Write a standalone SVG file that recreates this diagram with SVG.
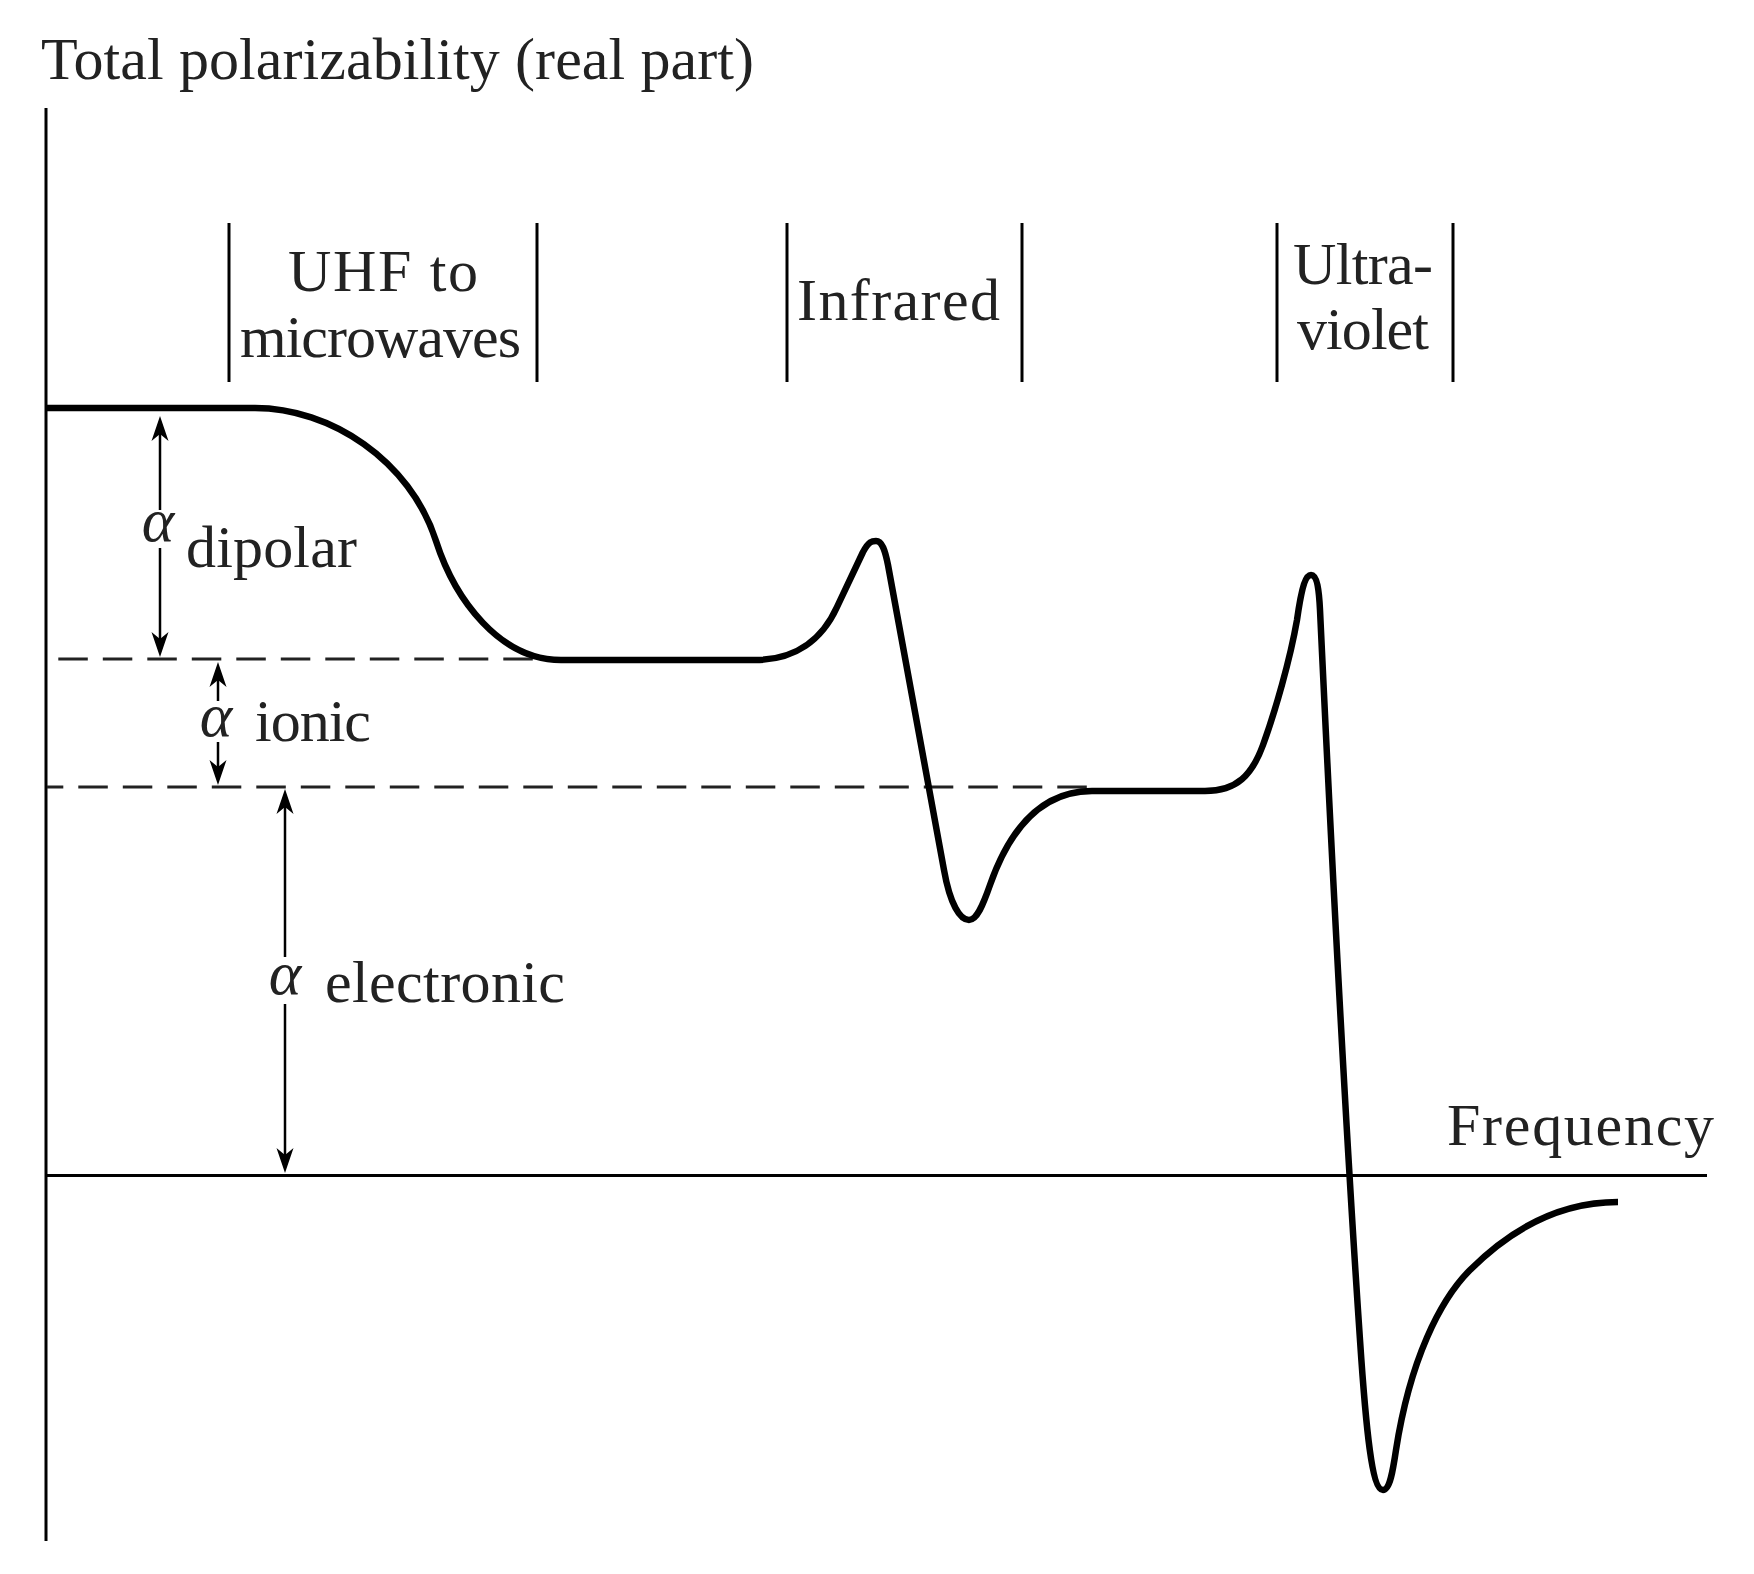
<svg xmlns="http://www.w3.org/2000/svg" width="1754" height="1574" viewBox="0 0 1754 1574">
<defs>
<style>
.txt{font-family:"Liberation Serif","DejaVu Serif","Times New Roman",serif;font-size:60px;fill:#222}
.alpha{font-family:"Liberation Serif","DejaVu Serif","Times New Roman",serif;font-size:62px;font-style:italic;fill:#222}
.axis{stroke:#000;stroke-width:3;fill:none}
.tick{stroke:#000;stroke-width:3;fill:none}
.dash{stroke:#222;stroke-width:3;fill:none;stroke-dasharray:29.5 15}
.curve{stroke:#000;stroke-width:6.5;fill:none;stroke-linejoin:round}
.arr{stroke:#000;stroke-width:2.5;fill:none;marker-end:url(#ah)}
</style>
<marker id="ah" markerUnits="userSpaceOnUse" viewBox="-14 -10 28 20" refX="0" refY="0" markerWidth="28" markerHeight="20" orient="auto">
<path d="M12,0 L-13,-8.5 L-6,0 L-13,8.5 Z" fill="#000"/>
</marker>
</defs>
<rect width="1754" height="1574" fill="#fff"/>

<g id="axes">
<line class="axis" x1="46" y1="108" x2="46" y2="1541"/>
<line class="axis" x1="46" y1="1175.5" x2="1707" y2="1175.5"/>
</g>

<g id="title"><text class="txt" x="41" y="79" textLength="713" lengthAdjust="spacing">Total polarizability (real part)</text></g>
<g id="xlabel"><text class="txt" x="1447" y="1145" textLength="267" lengthAdjust="spacing">Frequency</text></g>

<g id="band-uhf">
<line class="tick" x1="229" y1="223" x2="229" y2="382"/>
<line class="tick" x1="537" y1="223" x2="537" y2="382"/>
<text class="txt" x="288" y="291" textLength="190" lengthAdjust="spacing">UHF to</text>
<text class="txt" x="240" y="357" textLength="281" lengthAdjust="spacing">microwaves</text>
</g>
<g id="band-ir">
<line class="tick" x1="787" y1="223" x2="787" y2="382"/>
<line class="tick" x1="1022" y1="223" x2="1022" y2="382"/>
<text class="txt" x="797" y="320" textLength="203" lengthAdjust="spacing">Infrared</text>
</g>
<g id="band-uv">
<line class="tick" x1="1277" y1="223" x2="1277" y2="382"/>
<line class="tick" x1="1453" y1="223" x2="1453" y2="382"/>
<text class="txt" x="1293" y="284" textLength="140" lengthAdjust="spacing">Ultra-</text>
<text class="txt" x="1297" y="349" textLength="132" lengthAdjust="spacing">violet</text>
</g>

<g id="levels">
<line class="dash" x1="58.3" y1="659" x2="533" y2="659"/>
<line class="dash" x1="47" y1="787" x2="1087" y2="787" style="stroke-dashoffset:13.2"/>
</g>

<g id="curve">
<path class="curve" d="M46,408 H255 C330,408 410,460 436,541 C455,600 500,660 561,660 H755 C795,660 822,640 837,607 L863,552 C869,541 872,541 876,541 C882,541 885,550 888,565 L944,870 C950,904 960,920 969,920 C977,920 983,905 990,885 C1003,848 1030,791 1092,791 H1205 C1237,791 1252,775 1263,745 C1275,712 1290,660 1297,620 C1302,585 1306,575 1311,575 C1317,575 1319,590 1320,610 C1328,780 1345,1120 1360,1340 C1366,1430 1372,1490 1383,1490 C1390,1490 1393,1470 1396,1450 C1410,1360 1440,1300 1470,1270 C1510,1230 1560,1202 1618,1202"/>
</g>

<g id="connectors">
<line class="arr" x1="160" y1="510" x2="160" y2="428"/>
<line class="arr" x1="160" y1="548" x2="160" y2="645"/>
<line class="arr" x1="218" y1="701" x2="218" y2="674"/>
<line class="arr" x1="218" y1="742" x2="218" y2="773"/>
<line class="arr" x1="285" y1="957" x2="285" y2="801"/>
<line class="arr" x1="285" y1="1004" x2="285" y2="1161"/>
</g>

<g id="label-dipolar">
<text class="alpha" x="158" y="541" text-anchor="middle">α</text>
<text class="txt" x="186" y="567" textLength="171" lengthAdjust="spacing">dipolar</text>
</g>
<g id="label-ionic">
<text class="alpha" x="216" y="736" text-anchor="middle">α</text>
<text class="txt" x="255" y="741" textLength="116" lengthAdjust="spacing">ionic</text>
</g>
<g id="label-electronic">
<text class="alpha" x="285" y="994" text-anchor="middle">α</text>
<text class="txt" x="325" y="1002" textLength="240" lengthAdjust="spacing">electronic</text>
</g>
</svg>
